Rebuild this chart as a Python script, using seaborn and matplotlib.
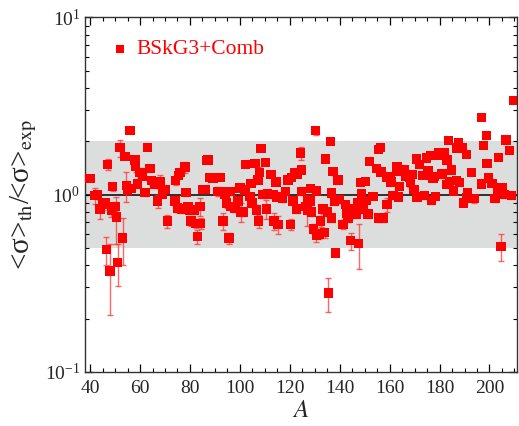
import numpy as np
import pandas as pd
import matplotlib
matplotlib.use("Agg")
import matplotlib.pyplot as plt
import seaborn as sns

# ---- data ----
mass_number = [
    40, 42, 43, 44, 45, 46, 46.5, 47, 48, 48.5, 49, 50, 50.5, 51, 52, 53, 54, 54.5, 55, 56,
    56.5, 58, 58.3, 59, 60, 61, 62, 63, 64, 64.5, 66, 67, 68, 69, 70, 71, 74, 74.3, 75, 75.5,
    76, 76.5, 78, 78.5, 79.3, 80, 80.4, 81.7, 82.3, 83, 84, 84.3, 85.3, 86, 86.7, 87.3, 88, 89.3, 91.3, 92,
    93.3, 94, 94.7, 95, 95.6, 96, 96.5, 98, 99.3, 100, 100.5, 101.3, 102, 102.3, 104, 104.4, 104.8, 106, 106.7, 107.3,
    107.5, 107.8, 108.4, 109.3, 110.3, 110.6, 111, 112.4, 113.3, 113.6, 114.4, 114.7, 115.3, 117, 118.3, 119.3, 120.4, 120.7, 121.3, 122,
    122.7, 123, 124.4, 124.6, 124.8, 126.3, 127, 127.3, 128.3, 128.4, 128.6, 129.6, 130.4, 130.6, 130.7, 131.7, 132.4, 133.3, 134, 134.4,
    135, 135.5, 136.4, 136.6, 136.8, 137.3, 138, 138.4, 139.3, 140, 141.3, 142.3, 142.7, 143.3, 144.4, 145.3, 146.7, 147.3, 147.6, 148.4,
    148.7, 149.3, 150.4, 150.6, 151.3, 152, 153.3, 154.7, 155.6, 155.8, 156.3, 156.5, 157.5, 158.7, 159, 160.1, 160.5, 161.3, 163, 163.3,
    163.6, 164, 165.7, 166.3, 168, 168.3, 169, 169.7, 170.7, 171, 172, 173.3, 174, 174.7, 175.3, 176.4, 176.7, 177.3, 178, 178.3,
    178.7, 179.6, 180.7, 181, 181.7, 182.7, 183, 183.7, 184, 184.7, 185.7, 186.7, 187, 187.7, 188, 189, 189.7, 190.7, 190.8, 191.3,
    192.7, 194, 196.7, 196.9, 197.7, 198.7, 199, 199.6, 201, 202.3, 203.3, 203.7, 204.7, 205, 206, 206.7, 208, 208.9, 209.7,
]
ratio = [
    1.23, 0.99, 1.00, 0.83, 0.88, 0.90, 0.49, 1.48, 0.37, 0.82, 1.11, 0.86, 0.75, 0.415, 1.84, 0.57, 1.64, 1.13, 1.06, 2.30,
    1.08, 1.57, 1.45, 1.15, 1.33, 1.27, 1.03, 1.84, 1.40, 1.20, 1.14, 0.92, 1.19, 1.01, 1.07, 0.71, 0.92, 1.20, 0.84, 1.28,
    1.33, 0.83, 1.43, 1.03, 0.86, 0.82, 0.71, 0.82, 0.69, 0.58, 0.86, 0.69, 1.07, 1.07, 1.56, 1.57, 1.25, 1.24, 1.04, 1.25,
    0.71, 1.00, 0.90, 1.04, 0.57, 1.04, 0.86, 0.84, 0.92, 1.09, 0.80, 0.80, 1.06, 1.48, 0.98, 1.16, 0.90, 1.50, 0.82, 1.21,
    0.71, 1.33, 1.82, 1.00, 1.52, 0.83, 1.01, 1.30, 1.00, 0.71, 1.18, 0.97, 0.68, 0.95, 1.04, 1.21, 0.68, 1.25, 0.92, 1.33,
    0.83, 1.30, 1.72, 1.38, 1.04, 0.86, 0.82, 0.94, 0.92, 1.08, 0.80, 0.64, 2.30, 1.05, 0.59, 0.60, 0.71, 0.83, 0.61, 1.59,
    0.80, 0.278, 2.00, 1.02, 0.74, 1.35, 0.92, 0.47, 1.21, 0.94, 0.68, 0.88, 0.79, 0.74, 0.55, 0.83, 0.78, 0.90, 0.53, 1.17,
    1.01, 0.83, 1.19, 0.93, 0.78, 1.54, 0.98, 1.41, 1.80, 0.74, 1.84, 1.34, 0.74, 1.26, 0.88, 1.27, 1.18, 0.99, 1.43, 1.36,
    0.97, 1.11, 1.38, 1.27, 1.26, 1.17, 1.30, 1.07, 1.59, 0.97, 1.48, 1.28, 0.99, 1.61, 1.36, 1.66, 0.93, 1.24, 1.27, 0.98,
    1.66, 1.72, 1.66, 1.31, 1.73, 1.14, 1.57, 2.02, 1.18, 1.38, 1.05, 1.20, 1.83, 1.96, 1.17, 1.83, 0.90, 0.96, 1.68, 1.03,
    1.33, 0.95, 2.73, 1.15, 1.89, 2.15, 1.50, 1.24, 1.16, 0.95, 1.04, 1.62, 0.51, 1.09, 1.00, 2.04, 1.77, 0.99, 3.40,
]
error = [
    0.03, 0.10, 0.05, 0.10, 0.06, 0.05, 0.09, 0.10, 0.16, 0.07, 0.06, 0.05, 0.22, 0.11, 0.20, 0.17, 0.05, 0.22, 0.05, 0.05,
    0.05, 0.05, 0.10, 0.05, 0.08, 0.05, 0.05, 0.05, 0.06, 0.05, 0.05, 0.08, 0.10, 0.04, 0.04, 0.06, 0.05, 0.07, 0.04, 0.04,
    0.05, 0.04, 0.10, 0.05, 0.04, 0.04, 0.04, 0.04, 0.04, 0.05, 0.10, 0.05, 0.04, 0.04, 0.04, 0.04, 0.04, 0.04, 0.06, 0.04,
    0.08, 0.04, 0.06, 0.04, 0.04, 0.04, 0.04, 0.04, 0.05, 0.04, 0.10, 0.04, 0.04, 0.04, 0.04, 0.04, 0.05, 0.04, 0.06, 0.04,
    0.06, 0.10, 0.04, 0.04, 0.04, 0.10, 0.04, 0.04, 0.04, 0.08, 0.04, 0.04, 0.08, 0.04, 0.04, 0.04, 0.05, 0.04, 0.04, 0.04,
    0.04, 0.04, 0.15, 0.06, 0.04, 0.04, 0.15, 0.04, 0.04, 0.04, 0.04, 0.04, 0.12, 0.04, 0.05, 0.04, 0.05, 0.05, 0.04, 0.04,
    0.04, 0.06, 0.04, 0.05, 0.04, 0.06, 0.04, 0.02, 0.04, 0.04, 0.04, 0.04, 0.04, 0.04, 0.06, 0.04, 0.04, 0.04, 0.15, 0.04,
    0.04, 0.04, 0.04, 0.04, 0.04, 0.04, 0.04, 0.04, 0.04, 0.04, 0.04, 0.04, 0.04, 0.04, 0.08, 0.05, 0.04, 0.04, 0.04, 0.04,
    0.04, 0.04, 0.04, 0.04, 0.04, 0.06, 0.04, 0.04, 0.04, 0.04, 0.04, 0.04, 0.04, 0.04, 0.04, 0.04, 0.04, 0.04, 0.04, 0.04,
    0.04, 0.04, 0.04, 0.06, 0.04, 0.04, 0.04, 0.04, 0.04, 0.04, 0.04, 0.04, 0.04, 0.04, 0.04, 0.04, 0.04, 0.04, 0.04, 0.04,
    0.04, 0.05, 0.04, 0.05, 0.04, 0.04, 0.04, 0.04, 0.04, 0.04, 0.04, 0.04, 0.09, 0.04, 0.04, 0.04, 0.04, 0.05, 0.04,
]
series_label = "BSkG3+Comb"
x_ticks = [40, 60, 80, 100, 120, 140, 160, 180, 200]

df = pd.DataFrame({"A": mass_number, "ratio": ratio, "err": error})

sns.set_theme(style="ticks")
plt.rcParams["font.family"] = ["Liberation Serif", "DejaVu Serif"]
plt.rcParams["mathtext.fontset"] = "stix"

fig = plt.figure(figsize=(5.19, 4.26), dpi=100)
ax = fig.add_axes([0.164, 0.127, 0.832, 0.832])

ax.axhspan(0.5, 2.0, color="#dcdddd", zorder=0, lw=0)
ax.axhline(1.0, color="black", lw=1.1, zorder=1)

ax.errorbar(df["A"], df["ratio"], yerr=df["err"], fmt="none",
            ecolor=(1, 0.2, 0.2, 0.75), elinewidth=1.0, capsize=2.5, capthick=1.0, zorder=2)
sns.scatterplot(data=df, x="A", y="ratio", marker="s", color="#ff0000", s=46,
                edgecolor="none", linewidth=0, label=series_label, ax=ax, zorder=3)

ax.set_yscale("log")
ax.set_ylim(0.1, 10)
ax.set_xlim(38, 211)
ax.set_xticks(x_ticks)
ax.set_xticks(np.arange(40, 211, 5), minor=True)

ax.tick_params(which="both", direction="in", top=True, right=True, labelsize=14, color="black")
ax.tick_params(which="major", length=6, width=0.9)
ax.tick_params(which="minor", length=3, width=0.8)
ax.tick_params(axis="x", pad=6)
for sp in ax.spines.values():
    sp.set_color("#333333")
    sp.set_linewidth(1.0)

ax.set_xlabel(r"$A$", fontsize=18, labelpad=2)
ax.set_ylabel("<σ>$_{\\rm th}$/<σ>$_{\\rm exp}$", fontsize=21, labelpad=4)

leg = ax.legend(loc="upper left", frameon=False, fontsize=15.5, labelcolor="red",
                handletextpad=0.25, handlelength=1.0, markerscale=0.85,
                bbox_to_anchor=(0.027, 0.975), borderaxespad=0.2)

fig.savefig("out.png", dpi=100)
